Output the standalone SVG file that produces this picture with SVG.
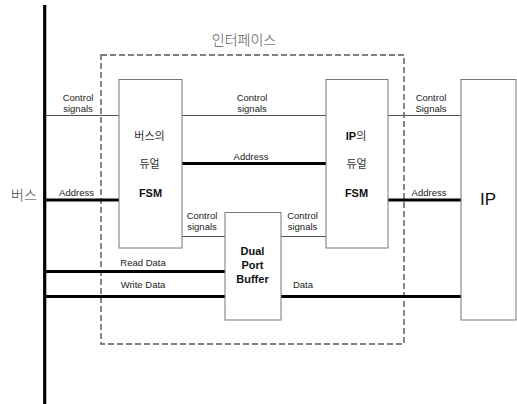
<svg xmlns="http://www.w3.org/2000/svg" width="517" height="404" viewBox="0 0 517 404">
<style>
.box{fill:#fff;stroke:#777;stroke-width:1}
.thin{stroke:#555;stroke-width:1;fill:none}
.thick{stroke:#000;stroke-width:2.8;fill:none}
.lbl{font-family:"Liberation Sans",Arial,sans-serif;font-size:9.5px;fill:#222;text-anchor:middle}
.kr{font-family:"Noto Sans CJK KR","Liberation Sans",sans-serif;font-size:11px;fill:#333;text-anchor:middle}
.b{font-family:"Liberation Sans",Arial,sans-serif;font-size:11px;font-weight:bold;fill:#111;text-anchor:middle}
</style>
<rect width="517" height="404" fill="#fff"/>
<g id="interface">
<rect x="101" y="55" width="303" height="289" fill="none" stroke="#555" stroke-width="1.4" stroke-dasharray="6,3"/>
<text x="244" y="45" style="font-family:'Noto Sans CJK KR',sans-serif;font-size:14px;font-weight:300;fill:#555;text-anchor:middle">인터페이스</text>
</g>
<g id="connectors">
<line class="thin" x1="45" y1="115.5" x2="119" y2="115.5"/>
<line class="thin" x1="182" y1="115.5" x2="326" y2="115.5"/>
<line class="thin" x1="388" y1="115.5" x2="461" y2="115.5"/>
<line class="thick" x1="45" y1="200" x2="119" y2="200"/>
<line class="thick" x1="182" y1="163.5" x2="326" y2="163.5"/>
<line class="thick" x1="388" y1="200" x2="461" y2="200"/>
<line class="thin" x1="182" y1="236.5" x2="225" y2="236.5"/>
<line class="thin" x1="281" y1="236.5" x2="326" y2="236.5"/>
<line class="thick" x1="45" y1="271.5" x2="225" y2="271.5"/>
<line class="thick" x1="45" y1="296.5" x2="225" y2="296.5"/>
<line class="thick" x1="281" y1="296.5" x2="461" y2="296.5"/>
<text class="lbl" x="78" y="100.5">Control</text>
<text class="lbl" x="78" y="111.5">signals</text>
<text class="lbl" x="252" y="100.5">Control</text>
<text class="lbl" x="252" y="111.5">signals</text>
<text class="lbl" x="431" y="100.5">Control</text>
<text class="lbl" x="431" y="111.5">Signals</text>
<text class="lbl" x="76.5" y="196">Address</text>
<text class="lbl" x="251" y="159.5">Address</text>
<text class="lbl" x="429" y="196">Address</text>
<text class="lbl" x="202" y="218.5">Control</text>
<text class="lbl" x="202" y="230">signals</text>
<text class="lbl" x="302.5" y="218.5">Control</text>
<text class="lbl" x="302.5" y="230">signals</text>
<text class="lbl" x="143" y="266">Read Data</text>
<text class="lbl" x="143" y="287.5">Write Data</text>
<text class="lbl" x="303" y="287.5">Data</text>
</g>
<g id="bus">
<line x1="44.7" y1="5" x2="44.7" y2="404" stroke="#000" stroke-width="3.2"/>
<text x="24" y="200" style="font-family:'Noto Sans CJK KR',sans-serif;font-size:14px;font-weight:300;fill:#444;text-anchor:middle">버스</text>
</g>
<g id="bus-fsm">
<rect class="box" x="119" y="79.5" width="63" height="168.5"/>
<text class="kr" x="149.5" y="139.5">버스의</text>
<text class="kr" x="149.5" y="168">듀얼</text>
<text class="b" x="150.5" y="197">FSM</text>
</g>
<g id="ip-fsm">
<rect class="box" x="326" y="79.5" width="62" height="168.5"/>
<text class="kr" x="356" y="139.5"><tspan style="font-family:'Liberation Sans',Arial,sans-serif;font-weight:bold;fill:#111">IP</tspan>의</text>
<text class="kr" x="356.5" y="168">듀얼</text>
<text class="b" x="356.5" y="197">FSM</text>
</g>
<g id="buffer">
<rect class="box" x="225" y="212.5" width="56" height="107.5"/>
<text class="b" x="252.5" y="255">Dual</text>
<text class="b" x="252.5" y="269.3">Port</text>
<text class="b" x="252.5" y="283.3">Buffer</text>
</g>
<g id="ip">
<rect class="box" x="461" y="79.5" width="55" height="240.5"/>
<text x="488" y="205" style="font-family:'Liberation Sans',Arial,sans-serif;font-size:17px;fill:#111;text-anchor:middle">IP</text>
</g>
</svg>
